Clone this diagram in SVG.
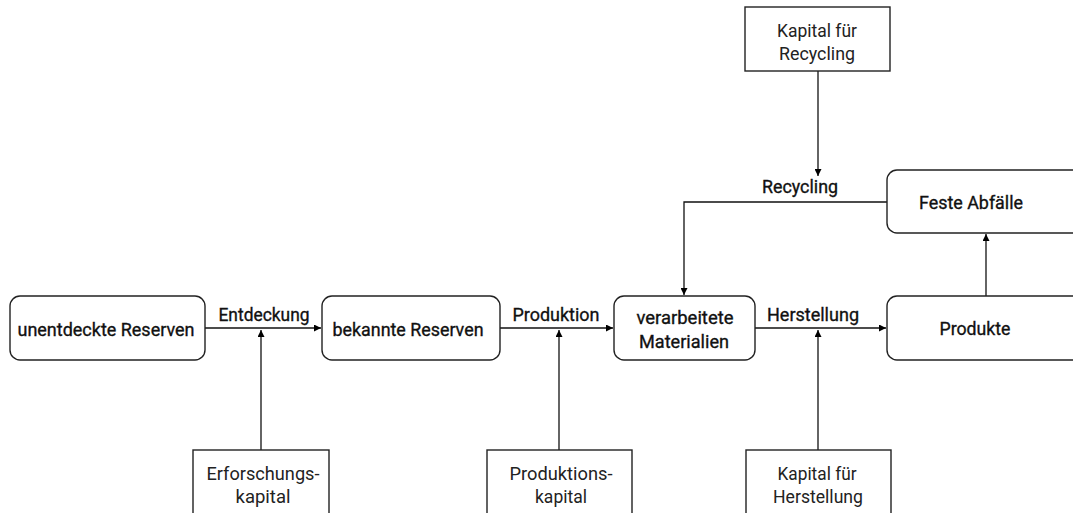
<svg xmlns="http://www.w3.org/2000/svg" width="1073" height="513" viewBox="0 0 1073 513">
<defs>
<marker id="ah" viewBox="0 0 10 10" refX="10" refY="5" markerWidth="7" markerHeight="7" markerUnits="userSpaceOnUse" orient="auto">
<path d="M0,0 L10,5 L0,10 z" fill="#000"/>
</marker>
<style>
.n{fill:#fff;stroke:#222;stroke-width:1.4}
.t{font-family:"Roboto","Liberation Sans",sans-serif;font-size:19px;fill:#111;text-anchor:middle;font-weight:400;stroke:#111;stroke-width:0.35}
.k{font-family:"Roboto","Liberation Sans",sans-serif;font-size:19px;fill:#222;text-anchor:middle;font-weight:400}
.c{fill:none;stroke:#111;stroke-width:1.3;marker-end:url(#ah)}
</style>
</defs>
<rect width="1073" height="513" fill="#fff"/>
<g id="connectors">
<path class="c" d="M205,328 H321"/>
<path class="c" d="M500,328 H613"/>
<path class="c" d="M755,328 H886"/>
<path class="c" d="M261,450 V330"/>
<path class="c" d="M559,450 V330"/>
<path class="c" d="M818,450 V330"/>
<path class="c" d="M986,296 V234"/>
<path class="c" d="M887,202 H684 V295"/>
<path class="c" d="M818,71 V176"/>
<text class="t" x="264" y="321" textLength="91" lengthAdjust="spacingAndGlyphs">Entdeckung</text>
<text class="t" x="556" y="321" textLength="87" lengthAdjust="spacingAndGlyphs">Produktion</text>
<text class="t" x="813" y="321" textLength="92" lengthAdjust="spacingAndGlyphs">Herstellung</text>
<text class="t" x="800" y="193" textLength="76" lengthAdjust="spacingAndGlyphs">Recycling</text>
</g>
<g id="n1"><rect class="n" x="10" y="296" width="195" height="64" rx="10"/><text class="t" x="106" y="336" textLength="177" lengthAdjust="spacingAndGlyphs">unentdeckte Reserven</text></g>
<g id="n2"><rect class="n" x="322" y="296" width="178" height="64" rx="10"/><text class="t" x="408" y="336" textLength="151" lengthAdjust="spacingAndGlyphs">bekannte Reserven</text></g>
<g id="n3"><rect class="n" x="614" y="296" width="141" height="64" rx="10"/><text class="t" x="685" y="324" textLength="97" lengthAdjust="spacingAndGlyphs">verarbeitete</text><text class="t" x="684" y="348" textLength="90" lengthAdjust="spacingAndGlyphs">Materialien</text></g>
<g id="n4"><rect class="n" x="887" y="296" width="200" height="64" rx="10"/><text class="t" x="975" y="335" textLength="71" lengthAdjust="spacingAndGlyphs">Produkte</text></g>
<g id="n5"><rect class="n" x="887" y="170" width="200" height="63" rx="10"/><text class="t" x="971" y="209" textLength="104" lengthAdjust="spacingAndGlyphs">Feste Abfälle</text></g>
<g id="n6"><rect class="n" x="745" y="7" width="145" height="64"/><text class="k" x="817" y="37" textLength="80" lengthAdjust="spacingAndGlyphs">Kapital für</text><text class="k" x="817" y="60" textLength="76" lengthAdjust="spacingAndGlyphs">Recycling</text></g>
<g id="n7"><rect class="n" x="193" y="450" width="136" height="80"/><text class="k" x="263" y="480" textLength="113" lengthAdjust="spacingAndGlyphs">Erforschungs-</text><text class="k" x="263" y="503" textLength="55" lengthAdjust="spacingAndGlyphs">kapital</text></g>
<g id="n8"><rect class="n" x="487" y="450" width="145" height="80"/><text class="k" x="561" y="480" textLength="103" lengthAdjust="spacingAndGlyphs">Produktions-</text><text class="k" x="561" y="503" textLength="52" lengthAdjust="spacingAndGlyphs">kapital</text></g>
<g id="n9"><rect class="n" x="746" y="450" width="145" height="80"/><text class="k" x="817" y="480" textLength="79" lengthAdjust="spacingAndGlyphs">Kapital für</text><text class="k" x="818" y="503" textLength="90" lengthAdjust="spacingAndGlyphs">Herstellung</text></g>
</svg>
